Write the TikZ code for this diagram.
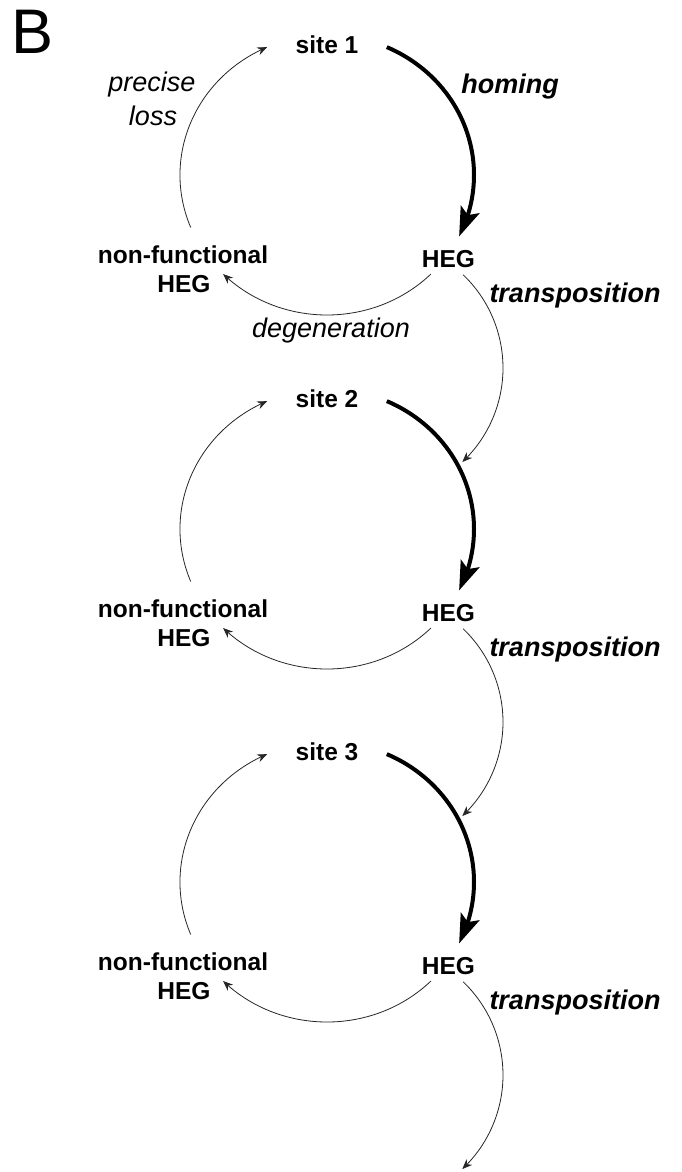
\documentclass[tikz,border=0pt]{standalone}
\usepackage{fontspec}
\setmainfont{Liberation Sans}
\usetikzlibrary{arrows.meta,bending}
\begin{document}
\begin{tikzpicture}[x=1pt,y=1pt,
  lab/.style={font=\fontsize{24.5}{29}\selectfont\bfseries, inner sep=0pt, anchor=base},
  proc/.style={font=\fontsize{27}{34}\selectfont\itshape, inner sep=0pt, anchor=base},
  procb/.style={font=\fontsize{27}{34}\selectfont\bfseries\itshape, inner sep=0pt, anchor=base},
  thinarrow/.style={line width=0.8pt, draw=black!85, -{Stealth[length=10pt,width=8pt]}},
  thickarrow/.style={line width=4pt, -{Stealth[length=29pt,width=20pt,inset=6pt]}},
]
\useasboundingbox (0,0) rectangle (681,-1172);
\fill[white] (0,0) rectangle (681,-1172);

\node[anchor=base west, inner sep=0pt, font=\fontsize{63}{63}\selectfont] (B) at (11,-53) {B};

\foreach \k/\o in {1/0, 2/354, 3/707} {
  \pgfmathsetmacro{\cy}{-175-\o}
  \pgfmathsetmacro{\ty}{-368-\o}
  % labels
  \node[lab] (site\k) at (327,{-53-\o}) {site \k};
  \node[lab] (heg\k) at (448.5,{-267-\o}) {HEG};
  \node[lab] (nf\k) at (183,{-263-\o}) {non-functional};
  \node[lab] (nfh\k) at (184,{-292-\o}) {HEG};
  \node[procb] (tr\k) at (575,{-302.5-\o}) {transposition};
  % coordinates on the cycle
  \coordinate (hs\k) at ({327+147*cos(66)},{\cy+140*sin(66)});
  \coordinate (ds\k) at ({327+147*cos(-45)},{\cy+140*sin(-45)});
  \coordinate (ps\k) at ({327+147*cos(202)},{\cy+140*sin(202)});
  \coordinate (ts\k) at ({374+129*cos(46.3)},{\ty+129*sin(46.3)});
  % connectors
  \draw[thickarrow] (hs\k) arc[start angle=66, end angle=-26, x radius=147, y radius=140];
  \draw[thinarrow] (ds\k) arc[start angle=-45, end angle=-135, x radius=147, y radius=140];
  \draw[thinarrow] (ps\k) arc[start angle=202, end angle=114, x radius=147, y radius=140];
  \draw[thinarrow] (ts\k) arc[start angle=46.3, end angle=-46.8, radius=129];
}

\node[proc] (precise) at (152,-91) {precise};
\node[proc] (loss) at (153,-125) {loss};
\node[procb] (homing) at (510,-93) {homing};
\node[proc] (degen) at (331,-337.5) {degeneration};
\end{tikzpicture}
\end{document}
